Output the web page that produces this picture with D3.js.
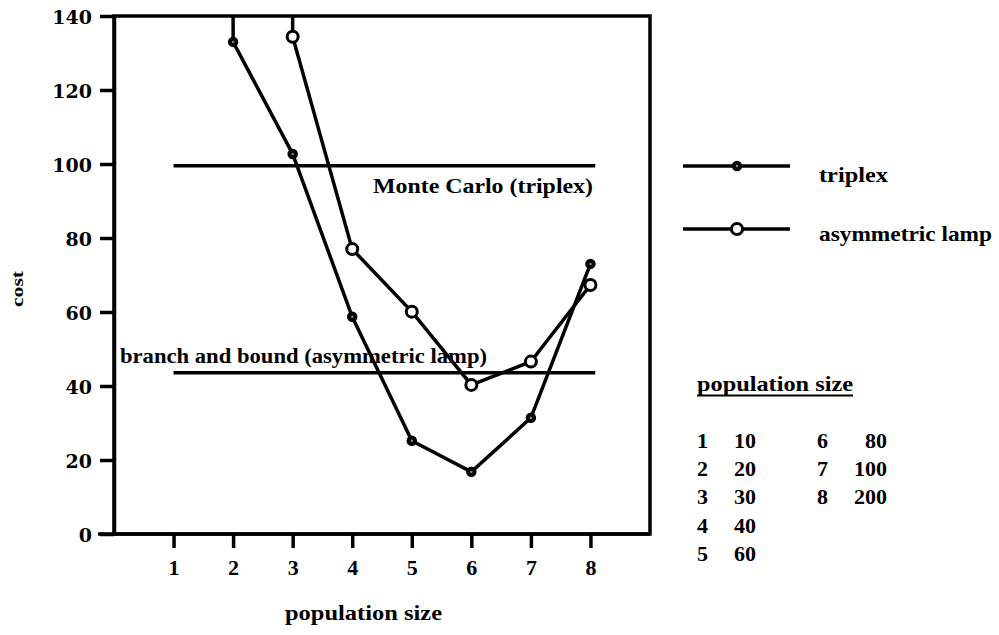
<!DOCTYPE html>
<html>
<head>
<meta charset="utf-8">
<script src="https://cdn.jsdelivr.net/npm/d3@7"></script>
<style>
  html, body { margin: 0; padding: 0; background: #fff; }
  svg { display: block; }
</style>
</head>
<body>
<script>
// ---------- data ----------
const categories = [1, 2, 3, 4, 5, 6, 7, 8];
const populationSizes = [10, 20, 30, 40, 60, 80, 100, 200];
// null = value above the top of the plot (off scale)
const triplexCost = [null, 133, 102.7, 58.7, 25.2, 16.8, 31.4, 73];
const asymLampCost = [null, null, 134.4, 77, 60.1, 40.3, 46.6, 67.3];
const yTickValues = [0, 20, 40, 60, 80, 100, 120, 140];
const monteCarloTriplex = 99.5;
const branchBoundAsym = 43.6;
const seriesNames = ["triplex", "asymmetric lamp"];

// ---------- layout ----------
const W = 999, H = 635;
const mLeft = 114, mRight = 650, mTop = 16, mBottom = 534;
const serif = "'Liberation Serif', 'Times New Roman', serif";

const svg = d3.select("body").append("svg").attr("width", W).attr("height", H);

const x = d3.scaleLinear().domain([0, 9]).range([mLeft, mRight]);
const y = d3.scaleLinear().domain([0, 140]).range([mBottom, mTop]);

// frame
svg.append("rect")
  .attr("x", mLeft).attr("y", mTop)
  .attr("width", mRight - mLeft).attr("height", mBottom - mTop)
  .attr("fill", "none").attr("stroke", "#000").attr("stroke-width", 3.5);

// bottom line extended left past the y axis
svg.append("line")
  .attr("x1", 98).attr("x2", mRight).attr("y1", y(0)).attr("y2", y(0))
  .attr("stroke", "#000").attr("stroke-width", 3.5);

// y axis
const yAxis = svg.append("g").attr("transform", `translate(${mLeft},0)`)
  .call(d3.axisLeft(y).tickValues(yTickValues).tickSize(14).tickSizeOuter(0).tickPadding(8));
yAxis.select(".domain").attr("stroke-width", 3.5);
yAxis.selectAll(".tick line").attr("stroke-width", 3.5);
yAxis.selectAll(".tick text")
  .attr("font-family", "'DejaVu Serif', serif").attr("font-weight", "bold")
  .attr("font-size", 19).attr("fill", "#000").attr("dy", "0.42em");

// x axis
const xAxis = svg.append("g").attr("transform", `translate(0,${mBottom})`)
  .call(d3.axisBottom(x).tickValues(categories).tickSize(14).tickSizeOuter(0).tickPadding(11));
xAxis.select(".domain").remove();
xAxis.selectAll(".tick line").attr("stroke-width", 3.5);
xAxis.selectAll(".tick text")
  .attr("font-family", serif).attr("font-weight", "bold")
  .attr("font-size", 22).attr("fill", "#000");

// axis titles
svg.append("text")
  .attr("transform", "translate(23,289) rotate(-90)")
  .attr("text-anchor", "middle")
  .attr("font-family", serif).attr("font-weight", "bold").attr("font-size", 17)
  .attr("textLength", 36).attr("lengthAdjust", "spacingAndGlyphs")
  .text("cost");

svg.append("text")
  .attr("x", 285).attr("y", 620)
  .attr("font-family", serif).attr("font-weight", "bold").attr("font-size", 22)
  .attr("textLength", 157).attr("lengthAdjust", "spacingAndGlyphs")
  .text("population size");

// reference lines
svg.append("line")
  .attr("x1", x(1)).attr("x2", x(8.08))
  .attr("y1", y(monteCarloTriplex)).attr("y2", y(monteCarloTriplex))
  .attr("stroke", "#000").attr("stroke-width", 3.5);
svg.append("text")
  .attr("x", 373).attr("y", 193)
  .attr("font-family", serif).attr("font-weight", "bold").attr("font-size", 22)
  .attr("textLength", 220).attr("lengthAdjust", "spacingAndGlyphs")
  .text("Monte Carlo (triplex)");

svg.append("line")
  .attr("x1", x(1)).attr("x2", x(8.08))
  .attr("y1", y(branchBoundAsym)).attr("y2", y(branchBoundAsym))
  .attr("stroke", "#000").attr("stroke-width", 3.5);
svg.append("text")
  .attr("x", 120).attr("y", 363)
  .attr("font-family", serif).attr("font-weight", "bold").attr("font-size", 22)
  .attr("textLength", 367).attr("lengthAdjust", "spacingAndGlyphs")
  .text("branch and bound (asymmetric lamp)");

// series
function filledMarker(cx, cy) {
  svg.append("circle").attr("cx", cx).attr("cy", cy).attr("r", 4.5)
    .attr("fill", "#000").attr("stroke", "#000").attr("stroke-width", 1.5);
  svg.append("circle").attr("cx", cx).attr("cy", cy).attr("r", 1.2).attr("fill", "#888");
}
function openMarker(cx, cy) {
  svg.append("circle").attr("cx", cx).attr("cy", cy).attr("r", 5.5)
    .attr("fill", "#fff").attr("stroke", "#000").attr("stroke-width", 3);
}
function drawSeries(values, marker) {
  const pts = categories.map((c, i) => ({ c, v: values[i] })).filter(d => d.v !== null);
  // off-scale connector: vertical to the top of the plot
  if (values[0] === null) {
    svg.append("line")
      .attr("x1", x(pts[0].c)).attr("x2", x(pts[0].c))
      .attr("y1", y(pts[0].v)).attr("y2", y(140))
      .attr("stroke", "#000").attr("stroke-width", 3.5);
  }
  svg.append("path").datum(pts)
    .attr("fill", "none").attr("stroke", "#000").attr("stroke-width", 3.5)
    .attr("d", d3.line().x(d => x(d.c)).y(d => y(d.v)));
  pts.forEach(d => marker(x(d.c), y(d.v)));
}
drawSeries(triplexCost, filledMarker);
drawSeries(asymLampCost, openMarker);

// legend
const legendRows = [
  { name: seriesNames[0], ly: 166, ty: 182, len: 69, marker: filledMarker },
  { name: seriesNames[1], ly: 229, ty: 241, len: 173, marker: openMarker }
];
legendRows.forEach(r => {
  svg.append("line").attr("x1", 683).attr("x2", 790).attr("y1", r.ly).attr("y2", r.ly)
    .attr("stroke", "#000").attr("stroke-width", 3.5);
  r.marker(737, r.ly);
  svg.append("text").attr("x", 819).attr("y", r.ty)
    .attr("font-family", serif).attr("font-weight", "bold").attr("font-size", 22)
    .attr("textLength", r.len).attr("lengthAdjust", "spacingAndGlyphs")
    .text(r.name);
});

// population size key
svg.append("text").attr("x", 697).attr("y", 391)
  .attr("font-family", serif).attr("font-weight", "bold").attr("font-size", 22)
  .attr("textLength", 156).attr("lengthAdjust", "spacingAndGlyphs")
  .text("population size");
svg.append("line").attr("x1", 697).attr("x2", 853).attr("y1", 395.5).attr("y2", 395.5)
  .attr("stroke", "#000").attr("stroke-width", 2);

categories.forEach((c, i) => {
  const col = i < 5 ? 0 : 1;
  const row = i < 5 ? i : i - 5;
  const by = 448 + row * 28.2;
  svg.append("text").attr("x", col ? 817 : 697).attr("y", by)
    .attr("font-family", serif).attr("font-weight", "bold").attr("font-size", 22)
    .text(c);
  svg.append("text").attr("x", col ? 887 : 756).attr("y", by)
    .attr("text-anchor", "end")
    .attr("font-family", serif).attr("font-weight", "bold").attr("font-size", 22)
    .text(populationSizes[i]);
});
</script>
</body>
</html>
